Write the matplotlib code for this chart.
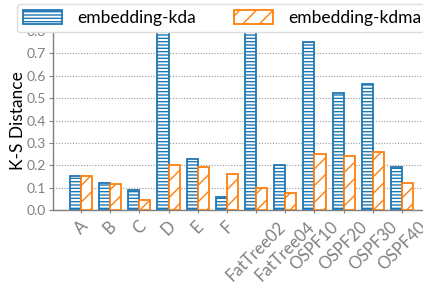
import matplotlib.pyplot as plt
import numpy as np

categories = ["A", "B", "C", "D", "E", "F", "FatTree02", "FatTree04",
              "OSPF10", "OSPF20", "OSPF30", "OSPF40"]
kda = [0.15, 0.12, 0.09, 0.80, 0.23, 0.06, 0.80, 0.20, 0.75, 0.525, 0.565, 0.19]
kdma = [0.15, 0.117, 0.046, 0.20, 0.193, 0.16, 0.10, 0.074, 0.25, 0.24, 0.26, 0.12]
yticks = [0.0, 0.1, 0.2, 0.3, 0.4, 0.5, 0.6, 0.7, 0.8]

plt.rcParams['font.family'] = ['Lato', 'DejaVu Sans']
plt.rcParams['hatch.linewidth'] = 1.0

blue = "#1f77b4"
orange = "#ff7f0e"
grey = "#808080"

fig = plt.figure(figsize=(4.23, 2.90), dpi=100)
ax = fig.add_axes([53 / 423, 80 / 290, 377 / 423, 179 / 290])

x = np.arange(len(categories))
w = 0.38
ax.bar(x - w / 2, kda, w, facecolor="white", edgecolor=blue, hatch="-----",
       linewidth=1.3, label="embedding-kda", zorder=3)
ax.bar(x + w / 2, kdma, w, facecolor="white", edgecolor=orange, hatch="//",
       linewidth=1.3, label="embedding-kdma", zorder=3)

ax.set_xlim(-0.96, len(categories) - 1 + 0.96)
ax.set_ylim(0, 0.8)
ax.set_yticks(yticks)
ax.set_yticklabels([f"{v:.1f}" for v in yticks])
ax.set_xticks(x)
ax.set_xticklabels(categories, rotation=45, ha="center")

ax.tick_params(axis="y", colors=grey, labelsize=10, length=3, width=0.8, pad=2)
ax.tick_params(axis="x", colors=grey, labelsize=12, length=2, width=0.8, pad=4)
ax.yaxis.grid(True, linestyle=(0, (1, 1.5)), color="#999999", linewidth=0.8, zorder=0)
ax.set_axisbelow(True)

for s in ["top", "right"]:
    ax.spines[s].set_visible(False)
for s in ["left", "bottom"]:
    ax.spines[s].set_color(grey)
    ax.spines[s].set_linewidth(1.0)

ax.set_ylabel("K-S Distance", fontsize=12.5, color="black")
ax.yaxis.set_label_coords(-0.072, 0.5)

fig.legend(loc="upper left", bbox_to_anchor=(17 / 423, 1 - 4 / 290), ncol=2,
           fontsize=12.5, handlelength=2.25, handleheight=0.8, columnspacing=2.2,
           handletextpad=0.86, borderpad=0.35, borderaxespad=0, frameon=True,
           edgecolor="#dddddd", fancybox=True, framealpha=1.0)

fig.savefig("out.png", dpi=100)
